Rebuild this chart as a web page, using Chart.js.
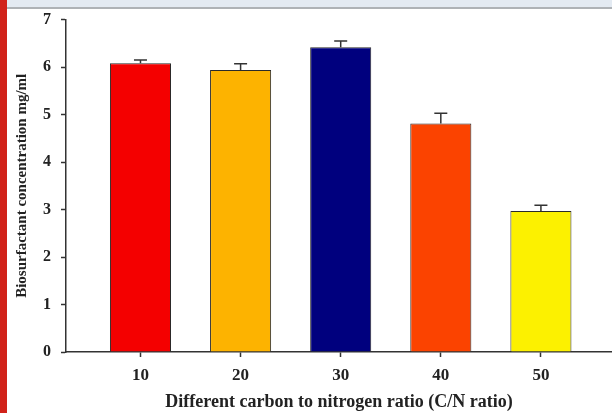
<!DOCTYPE html>
<html>
<head>
<meta charset="utf-8">
<script src="https://cdn.jsdelivr.net/npm/chart.js@4"></script>
<style>
  body { margin: 0; background: #fff; }
  #wrap { position: relative; width: 612px; height: 413px; overflow: hidden; }
  #topband { position: absolute; left: 0; top: 0; width: 612px; height: 7px; background: #e3eaf2; border-bottom: 2px solid #aeb2b6; }
  #redside { position: absolute; left: 0; top: 0; width: 7px; height: 413px; background: #d1221a; }
  canvas { position: absolute; left: 0; top: 0; }
</style>
</head>
<body>
<div id="wrap">
  <canvas id="cnChart" width="612" height="413"></canvas>
  <div id="topband"></div>
  <div id="redside"></div>
</div>
<script>
// C/N ratios and measured biosurfactant (mg/ml) with error (upper half only)
var categories = [10, 20, 30, 40, 50];
var concentration = [6.08, 5.94, 6.42, 4.81, 2.97];
var errors = [0.07, 0.13, 0.13, 0.22, 0.12];
var barColors = ["#f40000", "#fdb300", "#00007e", "#fb4300", "#fcf100"];
var yTicks = [0, 1, 2, 3, 4, 5, 6, 7];

var errorBars = {
  id: "errorBars",
  afterDatasetsDraw: function (chart) {
    var ctx = chart.ctx;
    var yScale = chart.scales.y;
    var meta = chart.getDatasetMeta(0);
    ctx.save();
    ctx.strokeStyle = "#333";
    ctx.lineWidth = 1.5;
    meta.data.forEach(function (bar, i) {
      var top = yScale.getPixelForValue(concentration[i] + errors[i]);
      ctx.beginPath();
      ctx.moveTo(bar.x, bar.y);
      ctx.lineTo(bar.x, top);
      ctx.moveTo(bar.x - 6.5, top);
      ctx.lineTo(bar.x + 6.5, top);
      ctx.stroke();
    });
    ctx.restore();
  }
};

var ctx = document.getElementById("cnChart").getContext("2d");
var cnChart = new Chart(ctx, {
  type: "bar",
  data: {
    datasets: [
      {
        data: categories.map(function (c, i) { return { x: c, y: concentration[i] }; }),
        backgroundColor: barColors,
        borderColor: "#2a2a2a",
        borderWidth: 1,
        categoryPercentage: 1,
        barPercentage: 0.61,
      },
    ],
  },
  options: {
    responsive: false,
    animation: false,
    layout: { padding: 0 },
    plugins: { legend: { display: false }, tooltip: { enabled: false } },
    scales: {
      x: {
        type: "linear",
        offset: false,
        min: 2.56,
        max: 57.1,
        afterBuildTicks: function (scale) {
          scale.ticks = categories.map(function (v) { return { value: v }; });
        },
        afterFit: function (scale) { scale.height = 61; },
        border: { color: "#333", width: 1.5 },
        grid: { offset: false, drawOnChartArea: false, tickLength: 5, tickColor: "#333", tickWidth: 1.5 },
        ticks: {
          color: "#222",
          padding: 8,
          maxRotation: 0,
          font: { family: "Liberation Serif", weight: "bold", size: 17 },
        },
        title: {
          display: true,
          text: "Different carbon to nitrogen ratio (C/N ratio)",
          color: "#222",
          padding: 0,
          font: { family: "Liberation Serif", weight: "bold", size: 18 },
        },
      },
      y: {
        min: 0,
        max: 7,
        afterBuildTicks: function (scale) {
          scale.ticks = yTicks.map(function (v) { return { value: v }; });
        },
        afterFit: function (scale) { scale.width = 66; },
        border: { color: "#333", width: 1.5 },
        grid: { drawOnChartArea: false, tickLength: 5, tickColor: "#333", tickWidth: 1.5 },
        ticks: {
          color: "#222",
          padding: 10,
          font: { family: "Liberation Serif", weight: "bold", size: 16 },
        },
        title: {
          display: true,
          text: "Biosurfactant concentration mg/ml",
          color: "#222",
          padding: { top: 13, bottom: 0 },
          font: { family: "Liberation Serif", weight: "bold", size: 15 },
        },
      },
    },
  },
  plugins: [errorBars],
});
</script>
</body>
</html>
